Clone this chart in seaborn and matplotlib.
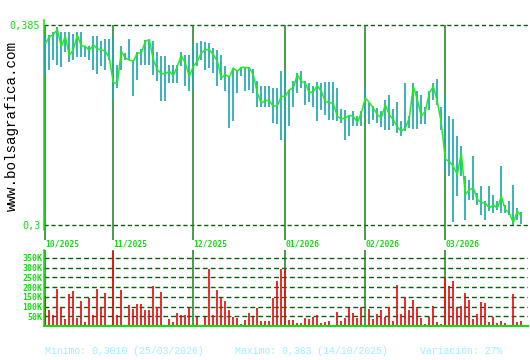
import numpy as np
import matplotlib
matplotlib.use("Agg")
import matplotlib.pyplot as plt
import seaborn as sns

# Months shown and trading days in each
month_labels = ["10/2025", "11/2025", "12/2025", "01/2026", "02/2026", "03/2026"]
month_days = [17, 20, 23, 20, 20, 20]

# Daily close, high, low (EUR)
close = [
    0.3771, 0.3799, 0.3809, 0.3830, 0.3759, 0.3802, 0.3720, 0.3745, 0.3806, 0.3762,
    0.3759, 0.3742, 0.3765, 0.3748, 0.3745, 0.3738, 0.3710, 0.3605, 0.3601, 0.3738,
    0.3710, 0.3701, 0.3696, 0.3731, 0.3731, 0.3780, 0.3788, 0.3703, 0.3660, 0.3643,
    0.3643, 0.3653, 0.3635, 0.3674, 0.3720, 0.3688, 0.3632, 0.3674, 0.3696, 0.3731,
    0.3745, 0.3745, 0.3724, 0.3696, 0.3625, 0.3639, 0.3629, 0.3667, 0.3653, 0.3670,
    0.3670, 0.3667, 0.3639, 0.3561, 0.3518, 0.3530, 0.3528, 0.3504, 0.3507, 0.3547,
    0.3547, 0.3575, 0.3582, 0.3639, 0.3610, 0.3603, 0.3561, 0.3568, 0.3592, 0.3568,
    0.3525, 0.3521, 0.3516, 0.3462, 0.3450, 0.3455, 0.3465, 0.3462, 0.3436, 0.3476,
    0.3540, 0.3521, 0.3497, 0.3469, 0.3455, 0.3511, 0.3469, 0.3448, 0.3416, 0.3399,
    0.3412, 0.3455, 0.3589, 0.3533, 0.3462, 0.3483, 0.3561, 0.3589, 0.3525, 0.3433,
    0.3280, 0.3270, 0.3249, 0.3214, 0.3306, 0.3129, 0.3150, 0.3157, 0.3108, 0.3096,
    0.3093, 0.3072, 0.3086, 0.3072, 0.3122, 0.3065, 0.3051, 0.3010, 0.3058, 0.3039,
]
high = [
    0.3802, 0.3809, 0.3820, 0.3841, 0.3820, 0.3820, 0.3820, 0.3813, 0.3820, 0.3820,
    0.3759, 0.3759, 0.3805, 0.3805, 0.3783, 0.3792, 0.3792, 0.3805, 0.3681, 0.3759,
    0.3731, 0.3792, 0.3700, 0.3734, 0.3748, 0.3788, 0.3788, 0.3783, 0.3734, 0.3717,
    0.3717, 0.3681, 0.3681, 0.3681, 0.3734, 0.3724, 0.3724, 0.3764, 0.3773, 0.3783,
    0.3776, 0.3773, 0.3752, 0.3745, 0.3724, 0.3674, 0.3632, 0.3667, 0.3660, 0.3670,
    0.3670, 0.3670, 0.3664, 0.3610, 0.3592, 0.3592, 0.3592, 0.3582, 0.3582, 0.3653,
    0.3653, 0.3575, 0.3610, 0.3646, 0.3653, 0.3610, 0.3603, 0.3592, 0.3606, 0.3603,
    0.3606, 0.3606, 0.3606, 0.3582, 0.3493, 0.3490, 0.3469, 0.3483, 0.3462, 0.3483,
    0.3582, 0.3518, 0.3504, 0.3497, 0.3483, 0.3533, 0.3554, 0.3493, 0.3521, 0.3440,
    0.3603, 0.3462, 0.3603, 0.3568, 0.3554, 0.3501, 0.3568, 0.3603, 0.3622, 0.3501,
    0.3554, 0.3465, 0.3452, 0.3377, 0.3334, 0.3207, 0.3193, 0.3295, 0.3136, 0.3164,
    0.3100, 0.3164, 0.3129, 0.3100, 0.3252, 0.3086, 0.3103, 0.3171, 0.3072, 0.3054,
]
low = [
    0.3632, 0.3660, 0.3700, 0.3681, 0.3670, 0.3734, 0.3691, 0.3700, 0.3713, 0.3713,
    0.3713, 0.3700, 0.3660, 0.3640, 0.3674, 0.3660, 0.3700, 0.3528, 0.3582, 0.3660,
    0.3703, 0.3700, 0.3550, 0.3617, 0.3678, 0.3678, 0.3678, 0.3639, 0.3613, 0.3528,
    0.3528, 0.3603, 0.3603, 0.3603, 0.3674, 0.3589, 0.3571, 0.3571, 0.3674, 0.3703,
    0.3660, 0.3667, 0.3646, 0.3589, 0.3617, 0.3571, 0.3412, 0.3440, 0.3561, 0.3632,
    0.3571, 0.3575, 0.3561, 0.3500, 0.3500, 0.3500, 0.3500, 0.3433, 0.3430, 0.3363,
    0.3360, 0.3419, 0.3500, 0.3561, 0.3582, 0.3508, 0.3521, 0.3500, 0.3440, 0.3490,
    0.3469, 0.3448, 0.3448, 0.3440, 0.3433, 0.3360, 0.3379, 0.3419, 0.3419, 0.3419,
    0.3462, 0.3430, 0.3448, 0.3433, 0.3416, 0.3402, 0.3402, 0.3422, 0.3391, 0.3379,
    0.3398, 0.3412, 0.3408, 0.3408, 0.3430, 0.3430, 0.3490, 0.3533, 0.3511, 0.3405,
    0.3228, 0.3210, 0.3011, 0.3122, 0.3207, 0.3020, 0.3108, 0.3108, 0.3086, 0.3041,
    0.3023, 0.3058, 0.3051, 0.3062, 0.3051, 0.3051, 0.3044, 0.3000, 0.3023, 0.3006,
]
# Daily volume, thousands of shares
volume_k = [
    156, 81, 54, 190, 98, 37, 163, 178, 41, 127, 20, 142, 54, 190, 92, 168, 7,
    385, 54, 183, 7, 107, 86, 112, 112, 81, 81, 203, 98, 173, 7, 37, 20, 66, 54, 54, 92,
    3, 47, 7, 47, 292, 54, 183, 142, 127, 81, 47, 41, 10, 31, 66, 47, 92, 25, 25, 25, 142, 229, 292,
    293, 31, 31, 15, 15, 41, 37, 47, 54, 15, 20, 25, 7, 71, 25, 41, 92, 66, 41, 97,
    5, 86, 37, 61, 81, 47, 97, 25, 208, 61, 147, 81, 132, 97, 41, 10, 47, 102, 20, 10,
    247, 203, 229, 92, 102, 168, 132, 37, 61, 122, 117, 20, 47, 15, 25, 15, 7, 163, 20, 25,
]
price_ticks = [0.3, 0.385]
price_tick_labels = ["0,3", "0,385"]
vol_ticks_k = [50, 100, 150, 200, 250, 300, 350]

idx = np.arange(len(close))
month_start = np.concatenate([[0], np.cumsum(month_days)[:-1]])
volume = np.array(volume_k) * 1000

sns.set_style("white")
plt.rcParams["font.family"] = ["DejaVu Sans Mono"]

TEAL = "#1fa9b0"
LINE_GREEN = "#1aef1a"
AXIS_GREEN = "#11dd11"
MONTH_GREEN = "#17801a"
DASH_GREEN = "#0b5e0b"
RED = "#e81010"
TXT_CYAN = "#9eeeff"

W, H = 530, 360
fig = plt.figure(figsize=(W / 100, H / 100), dpi=100)


def px_axes(x0, y0, x1, y1):
    return fig.add_axes([x0 / W, 1 - y1 / H, (x1 - x0) / W, (y1 - y0) / H])


# ---- price panel
ax = px_axes(43.5, 20, 528, 230)
ax.set_xlim(-0.45, 120.675)
ax.set_ylim(0.297875, 0.387125)
for y in price_ticks:
    ax.axhline(y, color=DASH_GREEN, lw=1.0, dashes=(3, 2), zorder=1)
ax.vlines(month_start, 0.2936, 0.385, color=MONTH_GREEN, lw=1.1, zorder=2, clip_on=False)
ax.vlines(idx, low, high, color=TEAL, lw=1.25, zorder=3)
sns.lineplot(x=idx, y=close, ax=ax, color=LINE_GREEN, lw=1.1, zorder=4)
for s, lab in zip(month_start, month_labels):
    ax.text(s, 0.2919, lab, ha="left", va="center", fontsize=5.8, fontweight="bold",
            color=AXIS_GREEN, clip_on=False)
ax.set_yticks(price_ticks, price_tick_labels)
ax.set_xticks([])
ax.tick_params(axis="y", length=0, pad=2.2, labelsize=7.3, labelcolor=AXIS_GREEN)
for side in ["top", "right", "bottom"]:
    ax.spines[side].set_visible(False)
ax.spines["left"].set_color(AXIS_GREEN)
ax.spines["left"].set_linewidth(1.1)
ax.set_xlabel("")
ax.set_ylabel("")

# ---- volume panel
ax2 = px_axes(43.5, 250, 528, 326)
for v in vol_ticks_k:
    ax2.axhline(v * 1000, color=DASH_GREEN, lw=1.0, dashes=(3.5, 2.2), zorder=0.5)
ax2.vlines(month_start, 0, 390000, color=MONTH_GREEN, lw=1.1, zorder=0.6)
ax2.vlines(idx, 0, volume, color=RED, lw=1.25, zorder=2)
ax2.set_xlim(-0.45, 120.675)
ax2.set_ylim(0, 390000)
ax2.set_yticks([v * 1000 for v in vol_ticks_k], [f"{v}K" for v in vol_ticks_k])
ax2.set_xticks([])
ax2.tick_params(axis="y", length=0, pad=1, labelsize=6, labelcolor=AXIS_GREEN)
for t in ax2.get_yticklabels():
    t.set_fontweight("bold")
for side in ["top", "right"]:
    ax2.spines[side].set_visible(False)
ax2.spines["left"].set_color(AXIS_GREEN)
ax2.spines["left"].set_linewidth(1.1)
ax2.spines["bottom"].set_color(AXIS_GREEN)
ax2.spines["bottom"].set_linewidth(1.5)
ax2.spines["bottom"].set_zorder(3)

# ---- texts
mono = ["Liberation Mono", "DejaVu Sans Mono"]
fig.text(12 / W, 1 - 126 / H, "www.bolsagrafica.com", rotation=90, ha="center",
         va="center", fontsize=10.3, color="black", family=mono)
fig.text(45 / W, 1 - 351 / H, "Minimo: 0,3010 (25/03/2026)", fontsize=7.1,
         color=TXT_CYAN, va="center", family=mono)
fig.text(235 / W, 1 - 351 / H, "Maximo: 0,383 (14/10/2025)", fontsize=7.1,
         color=TXT_CYAN, va="center", family=mono)
fig.text(420 / W, 1 - 351 / H, "Variación: 27%", fontsize=7.1,
         color=TXT_CYAN, va="center", family=mono)

fig.savefig("out.png", dpi=100, facecolor="white")
